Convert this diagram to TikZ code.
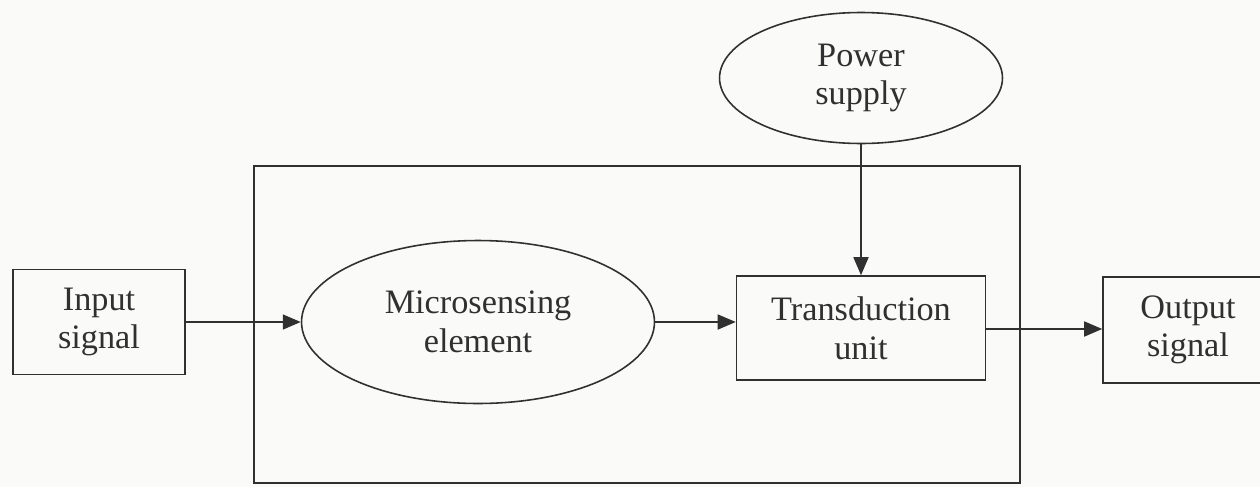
\documentclass[tikz,border=0pt]{standalone}
\usepackage{fontspec}
\setmainfont{Liberation Serif}
\usetikzlibrary{shapes.geometric,arrows.meta}
\definecolor{ink}{HTML}{303030}
\definecolor{paper}{HTML}{FAFAF8}
\begin{document}
\begin{tikzpicture}[x=0.02cm,y=-0.02cm,
  txt/.style={font=\fontsize{19.5}{22}\selectfont, text=ink, align=center, inner sep=0pt},
  blk/.style={txt, draw=ink, line width=0.9pt, rectangle},
  ell/.style={txt, draw=ink, line width=0.9pt, ellipse},
  conn/.style={draw=ink, line width=0.9pt, -{Triangle[length=0.36cm,width=0.3cm]}}]
\useasboundingbox (0,0) rectangle (1260,487);
\fill[paper] (0,0) rectangle (1260,487);
\clip (0,0) rectangle (1260,487);
\draw[ink, line width=1.5pt] (254,166) rectangle (1020,483);
\node[blk, minimum width=3.44cm, minimum height=2.1cm] (in) at (99,322) {Input\\signal};
\node[ell, minimum width=7.06cm, minimum height=3.26cm] (ms) at (478,322) {Microsensing\\element};
\node[blk, minimum width=4.98cm, minimum height=2.08cm] (tu) at (861,328) {Transduction\\unit};
\node[ell, minimum width=5.66cm, minimum height=2.62cm] (ps) at (861,78) {Power\\supply};
\node[blk, minimum width=3.4cm, minimum height=2.12cm] (out) at (1188,330) {Output\\signal};
\draw[conn] (in.east |- 0,322) -- (ms.west);
\draw[conn] (ms.east |- 0,322) -- (tu.west |- 0,322);
\draw[conn] (ps.south) -- (tu.north);
\draw[conn] (tu.east |- 0,329) -- (out.west |- 0,329);
\end{tikzpicture}
\end{document}
